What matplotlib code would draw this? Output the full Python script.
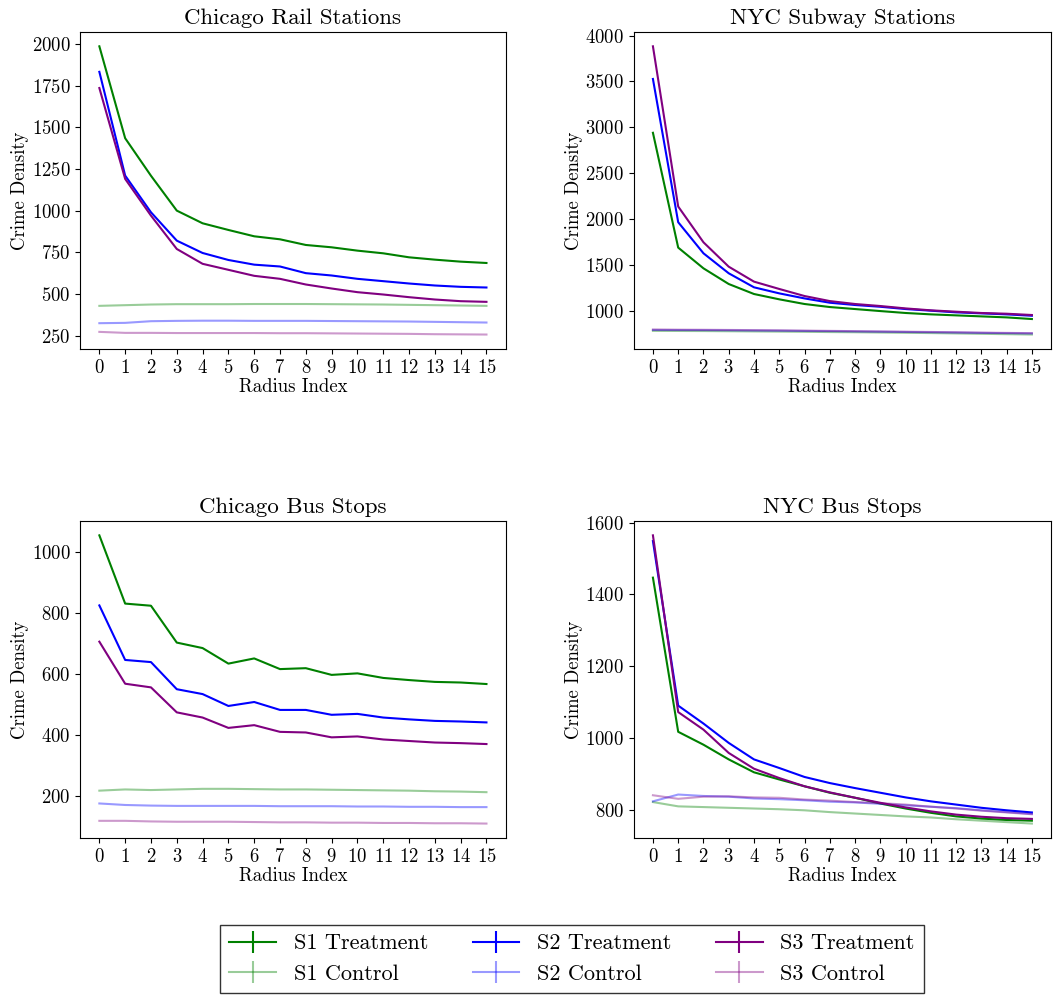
import matplotlib
matplotlib.use("Agg")
from matplotlib import pyplot as plt
from matplotlib.ticker import MultipleLocator

plt.rcParams['font.family'] = 'cmr10'
plt.rcParams['mathtext.fontset'] = 'cm'
plt.rcParams['axes.formatter.use_mathtext'] = True

radius = list(range(16))

# Chicago Rail Stations
cr_s1_t = [1986, 1435, 1210, 1001, 925, 885, 847, 829, 795, 781, 761, 745, 721, 707, 695, 687]
cr_s2_t = [1833, 1211, 991, 821, 747, 705, 677, 666, 626, 612, 592, 578, 564, 552, 544, 540]
cr_s3_t = [1736, 1191, 971, 771, 682, 646, 610, 592, 558, 534, 512, 498, 482, 468, 458, 454]
cr_s1_c = [430, 434, 438, 440, 440, 440, 441, 441, 441, 440, 439, 438, 436, 434, 432, 430]
cr_s2_c = [326, 328, 338, 340, 341, 341, 340, 340, 340, 339, 338, 337, 336, 334, 332, 330]
cr_s3_c = [274, 268, 268, 267, 267, 267, 267, 266, 266, 265, 264, 263, 262, 260, 259, 258]

# NYC Subway Stations
ns_s1_t = [2940, 1688, 1462, 1291, 1182, 1124, 1073, 1040, 1018, 996, 975, 960, 949, 938, 927, 909]
ns_s2_t = [3527, 1965, 1626, 1408, 1255, 1189, 1134, 1087, 1062, 1043, 1018, 1000, 982, 971, 960, 945]
ns_s3_t = [3883, 2136, 1746, 1480, 1317, 1237, 1160, 1105, 1073, 1051, 1025, 1004, 989, 975, 967, 953]
ns_s1_c = [780, 779, 778, 776, 774, 772, 770, 767, 765, 762, 759, 756, 752, 748, 744, 740]
ns_s2_c = [790, 789, 788, 786, 784, 782, 779, 777, 774, 771, 768, 765, 762, 758, 755, 752]
ns_s3_c = [795, 793, 792, 790, 788, 786, 783, 780, 777, 774, 771, 768, 765, 761, 758, 755]

# Chicago Bus Stops
cb_s1_t = [1055, 831, 824, 703, 685, 634, 651, 616, 619, 597, 602, 587, 580, 574, 572, 567]
cb_s2_t = [825, 646, 639, 550, 534, 495, 508, 482, 482, 466, 469, 457, 451, 446, 444, 441]
cb_s3_t = [706, 568, 556, 474, 457, 423, 432, 410, 408, 392, 395, 385, 380, 375, 373, 370]
cb_s1_c = [217, 221, 219, 221, 223, 223, 222, 221, 221, 220, 219, 218, 217, 215, 214, 212]
cb_s2_c = [175, 170, 168, 167, 167, 167, 167, 166, 166, 166, 165, 165, 164, 164, 163, 163]
cb_s3_c = [118, 118, 116, 115, 115, 115, 114, 113, 113, 112, 112, 111, 111, 110, 110, 109]

# NYC Bus Stops
nb_s1_t = [1447, 1017, 981, 940, 904, 884, 865, 847, 833, 817, 803, 791, 781, 775, 771, 769]
nb_s2_t = [1549, 1090, 1040, 986, 940, 916, 891, 874, 860, 847, 834, 823, 814, 805, 798, 792]
nb_s3_t = [1565, 1072, 1023, 958, 914, 888, 865, 848, 833, 819, 806, 795, 786, 780, 776, 774]
nb_s1_c = [821, 809, 807, 805, 803, 801, 798, 793, 789, 785, 781, 778, 773, 769, 765, 761]
nb_s2_c = [823, 842, 838, 836, 831, 829, 826, 822, 820, 816, 812, 808, 804, 798, 793, 788]
nb_s3_c = [840, 830, 836, 837, 834, 833, 828, 825, 821, 818, 814, 808, 803, 797, 792, 787]

# error bars are too small to see at this scale
err = [0] * 16

panels = [
    ('Chicago Rail Stations', [cr_s1_t, cr_s1_c, cr_s2_t, cr_s2_c, cr_s3_t, cr_s3_c], 250),
    ('NYC Subway Stations', [ns_s1_t, ns_s1_c, ns_s2_t, ns_s2_c, ns_s3_t, ns_s3_c], 500),
    ('Chicago Bus Stops', [cb_s1_t, cb_s1_c, cb_s2_t, cb_s2_c, cb_s3_t, cb_s3_c], 200),
    ('NYC Bus Stops', [nb_s1_t, nb_s1_c, nb_s2_t, nb_s2_c, nb_s3_t, nb_s3_c], 200),
]
labels = ['S1 Treatment', 'S1 Control', 'S2 Treatment', 'S2 Control', 'S3 Treatment', 'S3 Control']
colors = ['green', 'green', 'blue', 'blue', 'purple', 'purple']
alphas = [1, 0.4, 1, 0.4, 1, 0.4]

# posiciones de los ejes en fracciones de la figura
rects = [
    [0.0759, 0.650, 0.4040, 0.318],
    [0.6015, 0.650, 0.3955, 0.318],
    [0.0759, 0.1595, 0.4040, 0.318],
    [0.6015, 0.1595, 0.3955, 0.318],
]

fig = plt.figure(figsize=(10.54, 9.97), dpi=100)
handles = []
for (title, series, step), rect in zip(panels, rects):
    ax = fig.add_axes(rect)
    handles = []
    for y, lab, c, a in zip(series, labels, colors, alphas):
        h = ax.errorbar(radius, y, yerr=err, color=c, alpha=a, lw=1.5, label=lab)
        handles.append(h)
    ax.set_title(title, fontsize=16.5)
    ax.set_xlabel('Radius Index', fontsize=13.5, labelpad=1)
    ax.set_ylabel('Crime Density', fontsize=13.5, labelpad=2)
    ax.set_xticks(radius)
    ax.yaxis.set_major_locator(MultipleLocator(step))
    ax.tick_params(labelsize=13.5)

leg = fig.legend(handles, labels, ncol=3, loc='center', bbox_to_anchor=(572 / 1054, 1 - 959 / 997),
                 fontsize=16, fancybox=False, edgecolor='black', columnspacing=2.0,
                 handlelength=2.1, handletextpad=0.8)
leg.get_frame().set_linewidth(1.0)

plt.savefig('out.png', dpi=100)
